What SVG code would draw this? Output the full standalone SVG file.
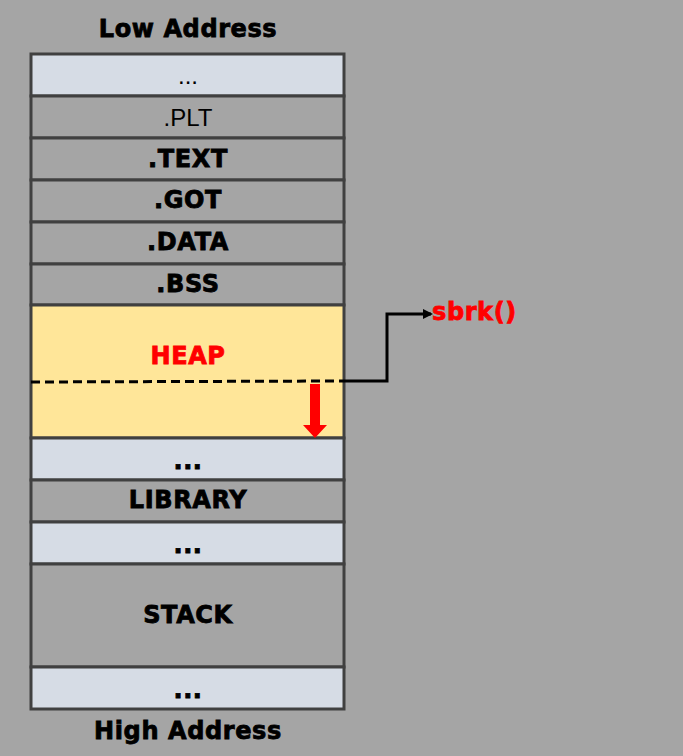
<svg xmlns="http://www.w3.org/2000/svg" width="683" height="756" viewBox="0 0 683 756">
<style>
.cell{stroke:#404040;stroke-width:3}
.g{fill:#a5a5a5}
.l{fill:#d6dce5}
.h{fill:#ffe699}
text{font-family:"DejaVu Sans",Verdana,sans-serif;font-size:24px;font-weight:bold;fill:#000;stroke:#000;stroke-width:0.8;letter-spacing:0.6px;text-anchor:middle}
.n{font-family:"Liberation Sans",Arial,sans-serif;font-weight:normal;stroke:none;letter-spacing:0}
.red{fill:#ff0000;stroke:#ff0000}
</style>
<defs>
<marker id="ah" markerWidth="10" markerHeight="10" refX="8" refY="5" orient="auto" markerUnits="userSpaceOnUse">
<path d="M0,0 L10,5 L0,10 Z" fill="#000"/>
</marker>
</defs>
<rect width="683" height="756" fill="#a5a5a5"/>
<text x="188" y="37">Low Address</text>
<g id="r1"><rect class="cell l" x="31" y="54" width="313" height="42"/><text class="n" x="188" y="84">...</text></g>
<g id="plt"><rect class="cell g" x="31" y="96" width="313" height="42"/><text class="n" x="188" y="126">.PLT</text></g>
<g id="text"><rect class="cell g" x="31" y="138" width="313" height="42"/><text x="188" y="167">.TEXT</text></g>
<g id="got"><rect class="cell g" x="31" y="180" width="313" height="42"/><text x="188" y="208">.GOT</text></g>
<g id="data"><rect class="cell g" x="31" y="222" width="313" height="42"/><text x="188" y="250">.DATA</text></g>
<g id="bss"><rect class="cell g" x="31" y="264" width="313" height="41"/><text x="188" y="292">.BSS</text></g>
<g id="heap"><rect class="cell h" x="31" y="305" width="313" height="133"/><text class="red" x="188" y="364">HEAP</text></g>
<g id="r2"><rect class="cell l" x="31" y="438" width="313" height="42"/><text x="188" y="469">...</text></g>
<g id="lib"><rect class="cell g" x="31" y="480" width="313" height="42"/><text x="188" y="508">LIBRARY</text></g>
<g id="r3"><rect class="cell l" x="31" y="522" width="313" height="42"/><text x="188" y="553">...</text></g>
<g id="stack"><rect class="cell g" x="31" y="564" width="313" height="103"/><text x="188" y="623">STACK</text></g>
<g id="r4"><rect class="cell l" x="31" y="667" width="313" height="42"/><text x="188" y="698">...</text></g>
<text x="188" y="739">High Address</text>
<g id="connectors">
<line x1="31" y1="382" x2="344" y2="381" stroke="#000" stroke-width="3" stroke-dasharray="9,5"/>
<polyline points="344,381 387,381 387,314 431,314" fill="none" stroke="#000" stroke-width="3" marker-end="url(#ah)"/>
<path d="M310,384 H320 V425 H327 L315,438 L303,425 H310 Z" fill="#ff0000"/>
</g>
<g id="sbrk"><text class="red" x="432" y="320" style="text-anchor:start">sbrk()</text></g>
</svg>
